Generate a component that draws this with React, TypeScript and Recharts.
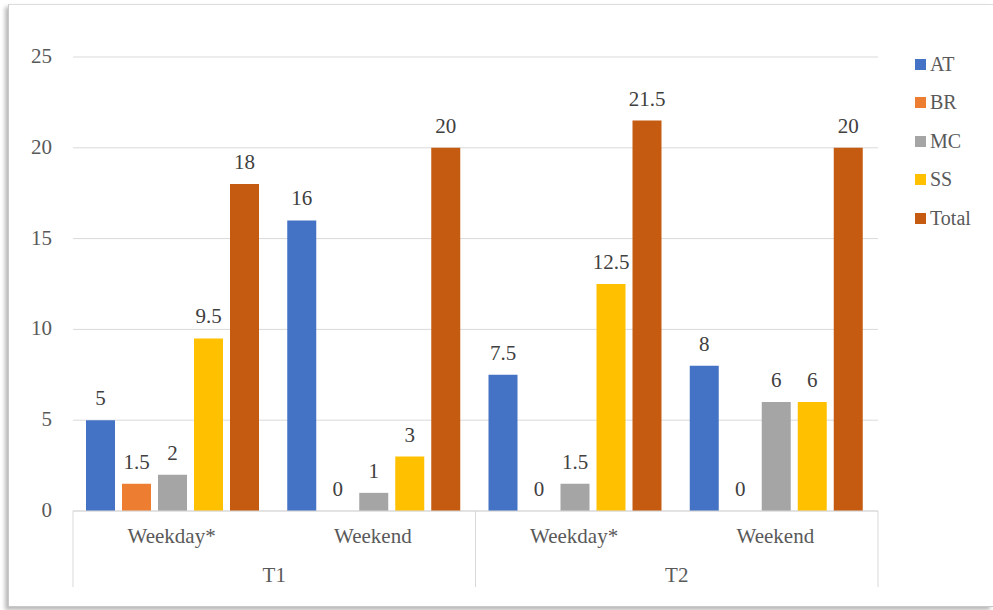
import { BarChart, Bar, XAxis, YAxis, CartesianGrid, Legend, LabelList } from "recharts";

const periods = ["Weekday*", "Weekend", "Weekday*", "Weekend"];
const terms = ["T1", "T1", "T2", "T2"];
const at = [5, 16, 7.5, 8];
const br = [1.5, 0, 0, 0];
const mc = [2, 1, 1.5, 6];
const ss = [9.5, 3, 12.5, 6];
const total = [18, 20, 21.5, 20];
const yTicks = [0, 5, 10, 15, 20, 25];

const series = [
  { key: "AT", values: at, color: "#4472C4" },
  { key: "BR", values: br, color: "#ED7D31" },
  { key: "MC", values: mc, color: "#A5A5A5" },
  { key: "SS", values: ss, color: "#FFC000" },
  { key: "Total", values: total, color: "#C55A11" },
];

const chartData = periods.map((period, i) => {
  const row: Record<string, string | number> = { period, term: terms[i] };
  series.forEach((s) => {
    row[s.key] = s.values[i];
  });
  return row;
});

const FONT = "Liberation Serif, Times New Roman, serif";
const WIDTH = 984;
const HEIGHT = 601;
const MARGIN = { top: 52, right: 115, bottom: 0, left: 14 };
const Y_WIDTH = 50;
const X_HEIGHT = 95;
const PLOT_W = WIDTH - MARGIN.left - Y_WIDTH - MARGIN.right;
const BAND = PLOT_W / periods.length;
const LINE = "#d9d9d9";
const TEXT = "#595959";
const FS = 21;

// two-level category axis: period label, then term label with separators
const PeriodTick = (props: any) => {
  const { x, y, payload } = props;
  const i = payload.index;
  const first = i === 0 || terms[i - 1] !== terms[i];
  const last = i === terms.length - 1;
  return (
    <g>
      <text x={x - 2} y={y + 32} textAnchor="middle" fill={TEXT} fontSize={FS} fontFamily={FONT}>
        {payload.value}
      </text>
      {first && (
        <>
          <line x1={x - BAND / 2} x2={x - BAND / 2} y1={y} y2={y + 76} stroke={LINE} />
          <text x={x + BAND / 2} y={y + 71} textAnchor="middle" fill={TEXT} fontSize={FS} fontFamily={FONT}>
            {terms[i]}
          </text>
        </>
      )}
      {last && <line x1={x + BAND / 2} x2={x + BAND / 2} y1={y} y2={y + 76} stroke={LINE} />}
    </g>
  );
};

const YTick = (props: any) => {
  const { x, y, payload } = props;
  return (
    <text x={x} y={y + 6} textAnchor="end" fill={TEXT} fontSize={FS} fontFamily={FONT}>
      {payload.value}
    </text>
  );
};

// value above each bar, zeros included
const ValueLabel = (props: any) => {
  const { x, y, width, value } = props;
  return (
    <text x={x + width / 2} y={y - 15} textAnchor="middle" fill="#404040" fontSize={FS} fontFamily={FONT}>
      {String(value)}
    </text>
  );
};

const LegendBox = () => (
  <div style={{ fontFamily: FONT, fontSize: 20, color: TEXT }}>
    {series.map((s) => (
      <div key={s.key} style={{ display: "flex", alignItems: "center", height: 38.5 }}>
        <span style={{ width: 11, height: 11, background: s.color, marginRight: 4, display: "inline-block" }} />
        <span>{s.key}</span>
      </div>
    ))}
  </div>
);

export default function App() {
  return (
    <div
      style={{
        position: "absolute",
        left: 8,
        top: 4,
        width: 985,
        height: 603,
        boxSizing: "border-box",
        borderTop: "1px solid #dcdcdc",
        borderLeft: "1px solid #c8c8c8",
        borderBottom: "1px solid #c8c8c8",
        boxShadow: "-3px 3px 4px rgba(0,0,0,0.28)",
        background: "#fff",
        fontFamily: FONT,
      }}
    >
      <BarChart
        width={WIDTH}
        height={HEIGHT}
        data={chartData}
        margin={MARGIN}
        barCategoryGap={13}
        barGap={7}
      >
        <CartesianGrid vertical={false} stroke={LINE} />
        <XAxis
          dataKey="period"
          height={X_HEIGHT}
          axisLine={{ stroke: LINE }}
          tickLine={false}
          tickSize={0}
          tickMargin={0}
          interval={0}
          tick={<PeriodTick />}
        />
        <YAxis
          width={Y_WIDTH}
          domain={[0, 25]}
          ticks={yTicks}
          axisLine={false}
          tickLine={false}
          tickSize={0}
          tickMargin={21}
          tick={<YTick />}
        />
        <Legend
          layout="vertical"
          align="center"
          verticalAlign="middle"
          wrapperStyle={{ left: 906, top: 40, width: 75 }}
          content={<LegendBox />}
        />
        {series.map((s) => (
          <Bar key={s.key} dataKey={s.key} fill={s.color} minPointSize={0.01} isAnimationActive={false}>
            <LabelList dataKey={s.key} content={ValueLabel} />
          </Bar>
        ))}
      </BarChart>
    </div>
  );
}
